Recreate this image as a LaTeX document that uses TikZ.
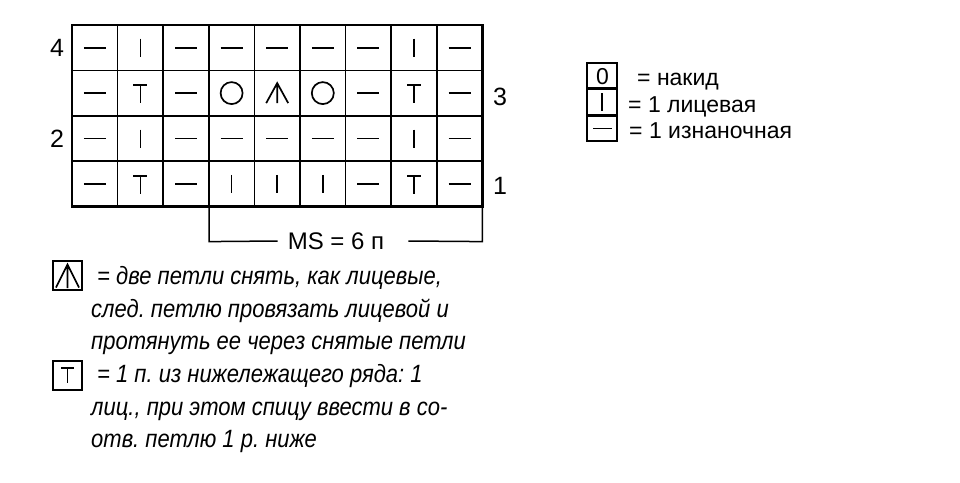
\documentclass[tikz,border=0pt]{standalone}
\usepackage{fontspec}
\setmainfont{Liberation Sans}
\newfontfamily\keyit{Liberation Sans Italic}[FakeStretch=0.88]
\frenchspacing
\usetikzlibrary{calc}
\tikzset{
  grid/.style={line width=1.5pt},
  frame/.style={line width=2.8pt},
  sym/.style={line width=1.7pt},
  lbl/.style={font=\fontsize{25}{25}\selectfont, inner sep=0pt},
  leg/.style={font=\fontsize{25}{25}\keyit, inner sep=0pt, anchor=base west},
  keytext/.style={font=\fontsize{23}{23}\selectfont, inner sep=0pt, anchor=base west},
  keybox/.style={line width=1.4pt}
}
\newcommand*{\purl}[1]
  {\draw[sym,shift={(#1)}] (-11,0) -- (11,0)}
\newcommand*{\knit}[1]
  {\draw[sym,shift={(#1)}] (0,-9) -- (0,9)}
\newcommand*{\tuck}[1]
  {\draw[sym,shift={(#1)}] (-7,-8) -- (7,-8) (0,-8) -- (0,10)}
\newcommand*{\yo}[1]
  {\draw[sym,shift={(#1)}] (0,0) circle (11)}
\newcommand*{\dec}[1]
  {\draw[sym,shift={(#1)}] (-11,10) -- (0,-10) -- (11,10) (0,-10) -- (0,10)}

\begin{document}
\begin{tikzpicture}[x=1pt,y=-1pt]
\useasboundingbox (0,0) rectangle (960,482);
\foreach \i in {1,...,9}
  \foreach \j in {1,...,4}
    \coordinate (c\i\j) at ({72+45.6*(\i-0.5)},{25+45.4*(4.5-\j)});
\coordinate (tl) at (72,25);
\coordinate (br) at (482.4,206.6);
\foreach \i in {1,...,8}
  \draw[grid] ({72+45.6*\i},25) -- ({72+45.6*\i},206.6);
\foreach \j in {1,...,3}
  \draw[grid] (72,{25+45.4*\j}) -- (482.4,{25+45.4*\j});
\draw[frame] (tl) rectangle (br);
% row 4
\foreach \i in {1,3,4,5,6,7,9} {\purl{c\i4};}
\knit{c24}; \knit{c84};
% row 3
\foreach \i in {1,3,7,9} {\purl{c\i3};}
\tuck{c23}; \tuck{c83};
\yo{c43}; \dec{c53}; \yo{c63};
% row 2
\foreach \i in {1,3,4,5,6,7,9} {\purl{c\i2};}
\knit{c22}; \knit{c82};
% row 1
\foreach \i in {1,3,7,9} {\purl{c\i1};}
\tuck{c21}; \tuck{c81};
\knit{c41}; \knit{c51}; \knit{c61};
% row numbers
\node[lbl] (r4) at (57,48) {4};
\node[lbl] (r3) at (500,97) {3};
\node[lbl] (r2) at (57,139) {2};
\node[lbl] (r1) at (500,186) {1};
% repeat
\node[font=\fontsize{24}{24}\selectfont, inner sep=0pt] (ms) at (336,241) {MS = 6 п};
\coordinate (msl) at (209.2,206.6);
\coordinate (msr) at (482.4,206.6);
\draw[line width=1.5pt] (msl) -- ++(0,35) -- ($(ms.west)+(-10,0)$);
\draw[line width=1.5pt] (msr) -- ++(0,35) -- ($(ms.east)+(24,0)$);
% key, right
\draw[keybox] (587,63) rectangle (617,88);
\node[keytext] at (596,84) {0};
\node[keytext] (k1) at (637,85) {= накид};
\draw[keybox] (587,89.5) rectangle (617,114.5);
\draw[sym] (602,93) -- (602,111);
\node[keytext] (k2) at (628,112) {= 1 лицевая};
\draw[keybox] (587,116) rectangle (617,141);
\draw[sym] (593,128.5) -- (612,128.5);
\node[keytext] (k3) at (629,138) {= 1 изнаночная};
% key, bottom
\draw[keybox] (53,261) rectangle (82,290);
\draw[sym] (56,287.5) -- (67.5,264.5) -- (79,287.5) (67.5,264.5) -- (67.5,288);
\node[leg] (d1) at (97,284) {= две петли снять, как лицевые,};
\node[leg] (d2) at (91,317) {след. петлю провязать лицевой и};
\node[leg] (d3) at (91,349) {протянуть ее через снятые петли};
\draw[keybox] (53,361) rectangle (82,390);
\draw[sym] (61,368) -- (74,368) (67.5,368) -- (67.5,383);
\node[leg] (t1) at (97,382) {= 1 п. из нижележащего ряда: 1};
\node[leg] (t2) at (91,415) {лиц., при этом спицу ввести в со-};
\node[leg] (t3) at (91,447) {отв. петлю 1 р. ниже};
\end{tikzpicture}
\end{document}
